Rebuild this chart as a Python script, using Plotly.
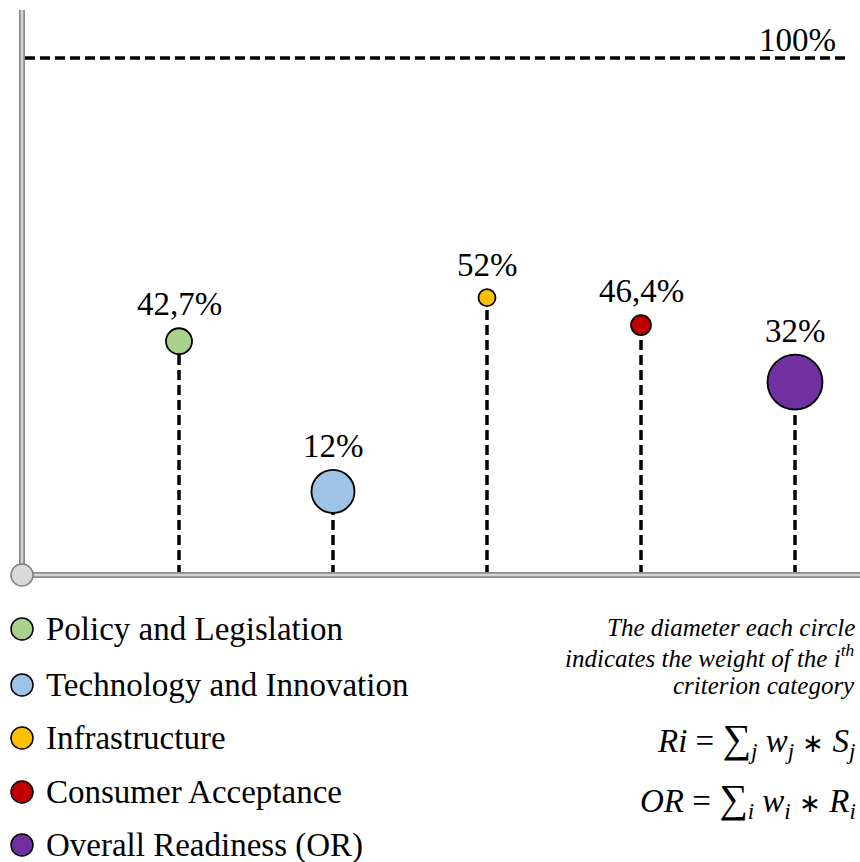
import plotly.graph_objects as go

# ---------------- data ----------------
categories = ["Policy and Legislation", "Technology and Innovation", "Infrastructure",
              "Consumer Acceptance", "Overall Readiness (OR)"]
values = [42.7, 12, 52, 46.4, 32]
value_labels = ["42,7%", "12%", "52%", "46,4%", "32%"]
weight_diam = [26, 43, 17, 20, 55]   # circle diameter encodes category weight
colors = ["#a9d18e", "#9dc3e6", "#ffc000", "#c00000", "#7030a0"]
ref_value = 100
ref_label = "100%"

# ---------------- layout geometry ----------------
W, H = 860, 862
Y0_PX = 575          # pixel row of value 0
PX_PER_UNIT = 5.17   # pixels per percent
X0_PX = 179          # pixel column of first category
STEP_PX = 154        # pixels between categories

yrange = [-(H - Y0_PX) / PX_PER_UNIT, Y0_PX / PX_PER_UNIT]
xrange = [-X0_PX / STEP_PX, (W - X0_PX) / STEP_PX]

SERIF = "Liberation Serif, Times New Roman, serif"
DASH = "10px,5px"

fig = go.Figure()
xs = list(range(len(categories)))

# stems
for i, v in enumerate(values):
    fig.add_trace(go.Scatter(x=[xs[i], xs[i]], y=[0, v], mode="lines",
                             line=dict(color="black", width=3.5, dash=DASH),
                             hoverinfo="skip", showlegend=False))

# circles: bottom of circle sits on the value
centers = [v + (d / 2) / PX_PER_UNIT for v, d in zip(values, weight_diam)]
fig.add_trace(go.Scatter(x=xs, y=centers, mode="markers",
                         marker=dict(size=weight_diam, color=colors, opacity=1,
                                     line=dict(color="black", width=1.8)),
                         text=categories, hoverinfo="text", showlegend=False))

annotations = []
for i, (v, d, lab) in enumerate(zip(values, weight_diam, value_labels)):
    annotations.append(dict(x=xs[i], y=v, xref="x", yref="y", text=lab,
                            showarrow=False, yanchor="middle", yshift=d + 24,
                            font=dict(family=SERIF, size=33, color="black")))

shapes = []
# reference line at 100%
shapes.append(dict(type="line", xref="paper", yref="y", x0=25 / W, x1=845 / W,
                   y0=ref_value, y1=ref_value,
                   line=dict(color="black", width=3.5, dash=DASH)))
annotations.append(dict(x=838 / W, y=1 - 40 / H, xref="paper", yref="paper",
                        text=ref_label, showarrow=False, xanchor="right", yanchor="middle",
                        font=dict(family=SERIF, size=33, color="black")))

# axes (drawn as gray bars)
ax_x = 22 / W
for col, wd in (("#8c8c8c", 6), ("#d4d4d4", 2.5)):
    shapes.append(dict(type="line", xref="paper", yref="paper", x0=ax_x, x1=ax_x,
                       y0=1 - 10 / H, y1=1 - Y0_PX / H, line=dict(color=col, width=wd)))
    shapes.append(dict(type="line", xref="paper", yref="y", x0=ax_x, x1=1,
                       y0=0, y1=0, line=dict(color=col, width=wd)))
# origin knob
r = 11
shapes.append(dict(type="circle", xref="paper", yref="paper",
                   x0=(22 - r) / W, x1=(22 + r) / W,
                   y0=1 - (Y0_PX + r) / H, y1=1 - (Y0_PX - r) / H,
                   fillcolor="#d9d9d9", line=dict(color="#808080", width=1.5)))

# legend (manual)
leg_y = [629, 685, 738, 792, 845]
lr = 11
for cat, col, yy in zip(categories, colors, leg_y):
    shapes.append(dict(type="circle", xref="paper", yref="paper",
                       x0=(22 - lr) / W, x1=(22 + lr) / W,
                       y0=1 - (yy + lr) / H, y1=1 - (yy - lr) / H,
                       fillcolor=col, line=dict(color="black", width=1.5)))
    annotations.append(dict(x=44 / W, y=1 - yy / H, xref="paper", yref="paper",
                            text=cat, showarrow=False, xanchor="left", yanchor="middle",
                            font=dict(family=SERIF, size=33, color="black")))

# note text
note_lines = ["<i>The diameter each circle</i>",
              "<i>indicates the weight of the i<sup>th</sup></i>",
              "<i>criterion category</i>"]
for line, yy in zip(note_lines, [627, 656, 685]):
    annotations.append(dict(x=857 / W, y=1 - yy / H, xref="paper", yref="paper",
                            text=line, showarrow=False, xanchor="right", yanchor="middle",
                            font=dict(family=SERIF, size=25, color="black")))

NB = "\u00a0"
SUM = "<span style='font-size:40px'>∑</span>"
AST = NB + "<span style='font-size:26px'>∗</span>" + NB
formulas = ["<i>Ri</i>" + NB + "=" + NB + SUM + "<sub><i>j</i></sub>" + NB
            + "<i>w<sub>j</sub></i>" + AST + "<i>S<sub>j</sub></i>",
            "<i>OR</i>" + NB + "=" + NB + SUM + "<sub><i>i</i></sub>" + NB
            + "<i>w<sub>i</sub></i>" + AST + "<i>R<sub>i</sub></i>"]
for f, yy in zip(formulas, [740, 800]):
    annotations.append(dict(x=858 / W, y=1 - yy / H, xref="paper", yref="paper",
                            text=f, showarrow=False, xanchor="right", yanchor="middle",
                            font=dict(family=SERIF, size=33, color="black")))

fig.update_layout(
    width=W, height=H, margin=dict(l=0, r=0, t=0, b=0),
    paper_bgcolor="white", plot_bgcolor="white",
    xaxis=dict(range=xrange, visible=False, fixedrange=True),
    yaxis=dict(range=yrange, visible=False, fixedrange=True),
    shapes=shapes, annotations=annotations, showlegend=False,
)

fig.write_html("out.html", config={"displayModeBar": False},
               post_script="document.body.style.margin='0';document.body.style.overflow='hidden';")
